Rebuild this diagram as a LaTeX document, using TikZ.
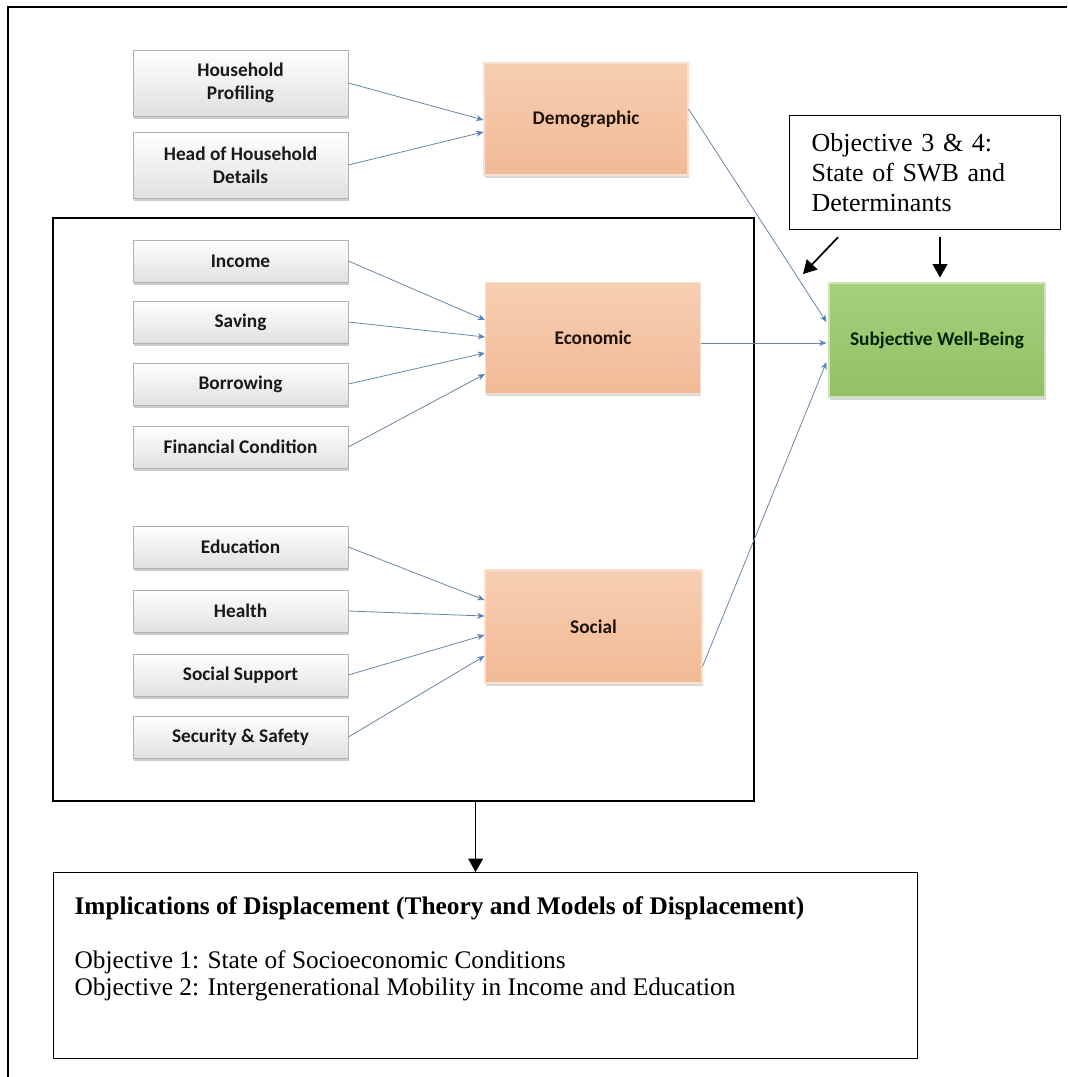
\documentclass[tikz,border=0pt]{standalone}
\usepackage{fontspec}
\setmainfont{Liberation Serif}
\newfontfamily\calfont{Carlito}
\usetikzlibrary{arrows.meta,shadows,calc}

\definecolor{peachT}{RGB}{247,206,178}
\definecolor{peachB}{RGB}{241,186,150}
\definecolor{greenT}{RGB}{166,207,126}
\definecolor{greenB}{RGB}{146,193,100}
\definecolor{connc}{RGB}{104,134,166}
\definecolor{tipc}{RGB}{84,130,185}

\begin{document}
\begin{tikzpicture}[x=0.75pt,y=-0.75pt,
  leaf/.style={rectangle, top color=white, bottom color=black!12, draw=black!30, line width=0.5pt,
    minimum width=161.25pt, minimum height=31.5pt, inner sep=2pt, align=center, text=black!90,
    font=\calfont\bfseries\fontsize{14.5}{17}\selectfont,
    drop shadow={shadow xshift=0.4pt, shadow yshift=-2.2pt, opacity=0.4}},
  tallleaf/.style={minimum height=49.5pt},
  catbox/.style={rectangle, top color=peachT, bottom color=peachB, draw=white!55!peachB, line width=0.8pt,
    inner sep=2pt, text=black!85!brown, font=\calfont\bfseries\fontsize{14.5}{17}\selectfont,
    drop shadow={shadow xshift=0.4pt, shadow yshift=-2pt, opacity=0.3}},
  swbbox/.style={rectangle, top color=greenT, bottom color=greenB, draw=white!55!greenB, line width=0.8pt,
    inner sep=2pt, text=black!85!green, font=\calfont\bfseries\fontsize{14.5}{17}\selectfont,
    drop shadow={shadow xshift=0.4pt, shadow yshift=-2pt, opacity=0.3}},
  conn/.style={draw=connc, line width=0.6pt, -{Stealth[length=5.5pt,width=4.5pt,color=tipc]}},
  blk/.style={draw=black, line width=1.3pt, -{Triangle[length=10pt,width=11pt]}},
  plainbox/.style={draw=black, line width=0.9pt, rectangle}
]
\useasboundingbox (0,0) rectangle (1067,1077);

% outer frame (open on right and bottom)
\draw[line width=1.2pt] (1067,7) -- (8,7) -- (8,1077);

% big inner frame
\node[plainbox, minimum width=525.75pt, minimum height=437.25pt, inner sep=0pt] (inner) at (403.5,509.5) {};

% left leaf boxes
\node[leaf, tallleaf] (hp) at (240.5,83) {Household\\Profiling};
\node[leaf, tallleaf] (hh) at (240.5,165) {Head of Household\\Details};

\node[leaf] (inc) at (240.5,261) {Income};
\node[leaf] (sav) at (240.5,322) {Saving};
\node[leaf] (bor) at (240.5,384) {Borrowing};
\node[leaf] (fin) at (240.5,447) {Financial Condition};

\node[leaf] (edu) at (240.5,547) {Education};
\node[leaf] (hea) at (240.5,611) {Health};
\node[leaf] (sup) at (240.5,675) {Social Support};
\node[leaf] (sec) at (240.5,737) {Security \& Safety};

% category boxes
\node[catbox, minimum width=153pt, minimum height=84pt] (demo) at (586,119) {Demographic};
\node[catbox, minimum width=161.25pt, minimum height=83.25pt] (econ) at (593,338) {Economic};
\node[catbox, minimum width=162.75pt, minimum height=84.75pt] (soc) at (593.5,626.5) {Social};
\node[swbbox, minimum width=162pt, minimum height=85.5pt] (swb) at (937,340) {Subjective Well-Being};

% objective box
\node[plainbox, anchor=north west, minimum width=203.25pt, minimum height=85.5pt, inner xsep=16.5pt,
  text width=170.25pt, align=left, font=\fontsize{19.5}{22.5}\selectfont] (obj) at (789,115)
  {Objective 3 \& 4:\\State of SWB and\\Determinants};

% implications box
\node[plainbox, anchor=north west, inner xsep=15.75pt, inner ysep=0pt] (impl) at (53,872)
  {\parbox[t][139.5pt][t]{616.5pt}{\fontsize{19}{20.25}\selectfont
   \rule{0pt}{31.5pt}\textbf{Implications of Displacement (Theory and Models of Displacement)}\\[20.25pt]
   Objective 1: State of Socioeconomic Conditions\\
   Objective 2: Intergenerational Mobility in Income and Education}};

% blue connectors
\draw[conn] (hp.east) -- ($(demo.west)+(0,1)$);
\draw[conn] (hh.east) -- ($(demo.west)+(0,13)$);

\draw[conn] (inc.east) -- ($(econ.west)+(0,-18)$);
\draw[conn] (sav.east) -- ($(econ.west)+(0,-1)$);
\draw[conn] (bor.east) -- ($(econ.west)+(0,15)$);
\draw[conn] (fin.east) -- ($(econ.west)+(0,36)$);

\draw[conn] (edu.east) -- ($(soc.west)+(0,-26.5)$);
\draw[conn] (hea.east) -- ($(soc.west)+(0,-10.5)$);
\draw[conn] (sup.east) -- ($(soc.west)+(0,8.5)$);
\draw[conn] (sec.east) -- ($(soc.west)+(0,29.5)$);

\draw[conn] ($(demo.east)+(0,-10)$) -- ($(swb.west)+(-2,-18)$);
\draw[conn] ($(econ.east)+(0,5)$) -- ($(swb.west)+(-2,3)$);
\draw[conn] ($(soc.east)+(0,40)$) -- ($(swb.west)+(-2,22)$);

% black arrows
\coordinate (dEnd) at (803,274);
\draw[blk] ($(obj.south west)+(49,7)$) -- (dEnd);
\draw[blk] ($(swb.north)+(3,-45)$) -- ($(swb.north)+(3,-5)$);
\draw[blk] ($(inner.south -| impl.north)+(-10,0)$) -- ($(impl.north)+(-10,0)$);

\end{tikzpicture}
\end{document}
